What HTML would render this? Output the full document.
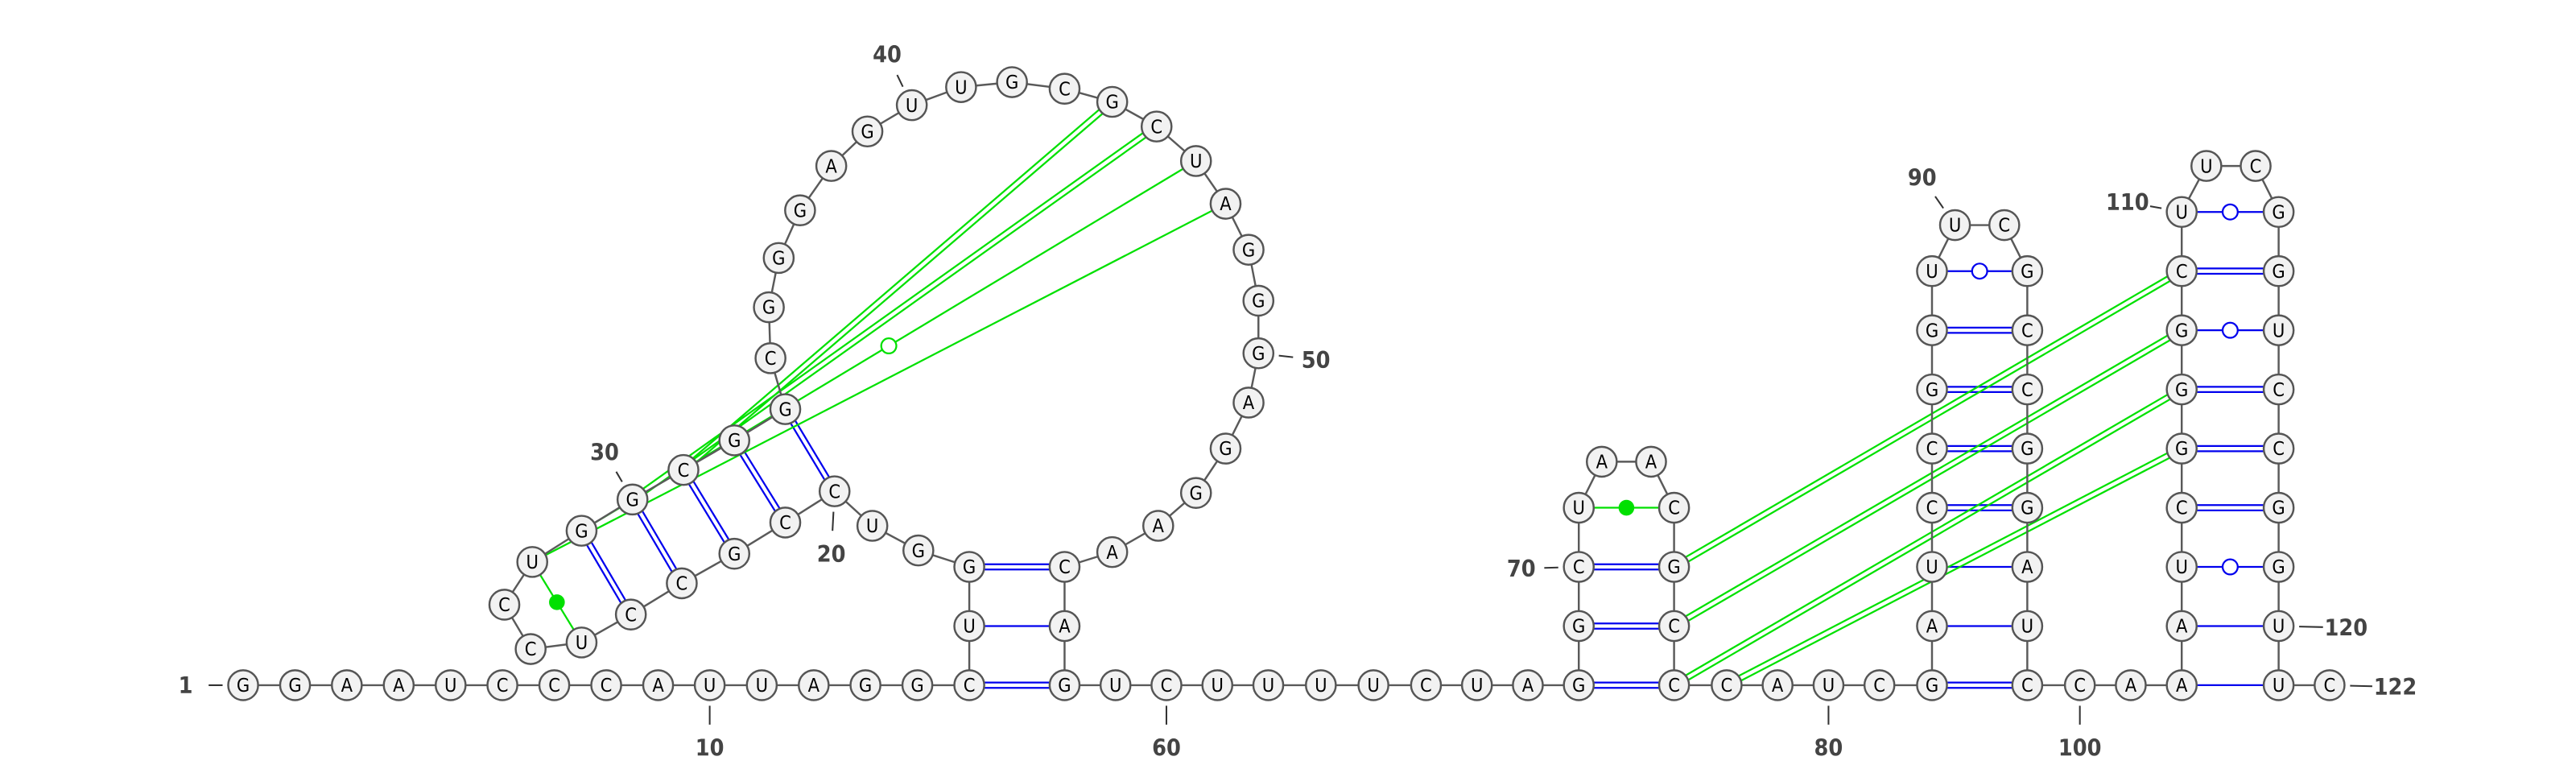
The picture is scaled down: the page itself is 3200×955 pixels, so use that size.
<!DOCTYPE html>
<html><head><meta charset="utf-8"><style>
html,body{margin:0;padding:0;background:#fff;}
svg{display:block;}
</style></head><body>
<svg id="rna" width="3200" height="955" viewBox="0 0 1568 468" preserveAspectRatio="none" xmlns="http://www.w3.org/2000/svg">
<g id="pairs"></g>
<g id="backbone"></g>
<g id="nodes"></g>
<g id="labels"></g>
</svg>
<script>
const seq = ["G","G","A","A","U","C","C","C","A","U","U","A","G","G","C",
"U","G","G","U","C","C","G","C","C","U","C","C","U","G","G","C","G","G",
"C","G","G","G","A","G","U","U","G","C","G","C","U","A","G","G","G","A","G","G","A","A","C",
"A","G","U","C","U","U","U","U","C","U","A",
"G","G","C","U","A","A","C","G","C","C","C","A","U","C",
"G","A","U","C","C","G","G","U","U","C","G","C","C","G","G","A","U","C",
"C","A","A","A","U","C","G","G","G","C","U","U","C","G","G","U","C","C","G","G","U","U","C"];
const xs = [148,179.6,211.1,242.7,274.3,305.8,337.4,369,400.6,432,463.7,495.3,526.8,558.4,590,590,590,559,531,508,478,447,415,384,354,323,307,324,354,385,416,447,478,469,468,474,487,506,528,555,585,616,648,677,704,728,746,760,766,766,760,746,728,705,677,648,648,648,679,710,741,772,804,836,868,899,930,961,961,961,961,975,1005,1019,1019,1019,1019,1051,1082,1113,1144,1176,1176,1176,1176,1176,1176,1176,1176,1190,1220,1234,1234,1234,1234,1234,1234,1234,1234,1266,1297,1328,1328,1328,1328,1328,1328,1328,1328,1328,1343,1373,1387,1387,1387,1387,1387,1387,1387,1387,1387,1418];
const ys = [417,417,417,417,417,417,417,417,417,417,417,417,417,417,417,381,345,335,320,299,318,337,355,374,391,395,368,342,323,304,286,268,249,218,187,157,128,101,80,64,53,50,54,62,77,98,124,152,183,215,245,273,300,320,336,345,381,417,417,417,417,417,417,417,417,417,417,417,381,345,309,281,281,309,345,381,417,417,417,417,417,417,381,345,309,273,237,201,165,137,137,165,201,237,273,309,345,381,417,417,417,417,381,345,309,273,237,201,165,129,101,101,129,165,201,237,273,309,345,381,417,417];
const pairI = [15,16,17,20,21,22,23,24,25,31,30,29,28,68,69,70,71,82,83,84,85,86,87,88,89,75,76,77,78,102,103,104,105,106,107,108,109,110];
const pairJ = [58,57,56,33,32,31,30,29,28,44,45,46,47,77,76,75,74,99,98,97,96,95,94,93,92,109,108,107,106,121,120,119,118,117,116,115,114,113];
const pairT = ["2","1","2","2","2","2","2","2","gd","g2","g2","gw","g1","2","2","2","gd","2","1","1","2","2","2","2","w","g2","g2","g2","g2","1","1","w","2","2","2","w","2","w"];
const labelPos = [1,10,20,30,40,50,60,70,80,90,100,110,120,122];
const labelDX = [-35,0,-2,-17,-15,35,0,-35,0,-20,0,-33,41,40];
const labelDY = [0,38,38,-29,-31,4,38,1,38,-29,38,-6,1,1];

const NS="http://www.w3.org/2000/svg";
function mk(tag, attrs, parent){const e=document.createElementNS(NS,tag);for(const k in attrs)e.setAttribute(k,attrs[k]);parent.appendChild(e);return e;}
const gP=document.getElementById('pairs'),gB=document.getElementById('backbone'),gN=document.getElementById('nodes'),gL=document.getElementById('labels');
const BLUE="#0000ee",GREEN="#00e000";
const N=Math.min(seq.length,xs.length,ys.length);
for(let k=0;k<pairI.length;k++){
  const a=pairI[k]-1,b=pairJ[k]-1,t=pairT[k];
  const x1=xs[a],y1=ys[a],x2=xs[b],y2=ys[b];
  const col=t[0]==='g'?GREEN:BLUE;
  const dx=x2-x1,dy=y2-y1,L=Math.hypot(dx,dy),nx=-dy/L,ny=dx/L;
  const grp=mk('g',{},gP);
  
  
  const sw=1.1;
  if(t==='2'||t==='g2'){
    for(const s of [-1.6,1.6]) mk('line',{x1:x1+nx*s,y1:y1+ny*s,x2:x2+nx*s,y2:y2+ny*s,stroke:col,'stroke-width':sw},grp);
  } else {
    mk('line',{x1:x1,y1:y1,x2:x2,y2:y2,stroke:col,'stroke-width':sw},grp);
  }
  const mx=(x1+x2)/2,my=(y1+y2)/2;
  if(t==='w'||t==='gw') mk('circle',{cx:mx,cy:my,r:4.6,fill:'#fff',stroke:col,'stroke-width':1.1},grp);
  if(t==='gd') mk('circle',{cx:mx,cy:my,r:4.8,fill:GREEN},grp);
}
for(let i=0;i<N-1;i++){
  const l=mk('line',{x1:xs[i],y1:ys[i],x2:xs[i+1],y2:ys[i+1],stroke:'#5a5a5a','stroke-width':1.2},gB);
  
  
}
for(let i=0;i<N;i++){
  const g=mk('g',{},gN);
  
  
  mk('circle',{cx:xs[i],cy:ys[i],r:9.1,fill:'#f2f2f2',stroke:'#555','stroke-width':1.2},g);
  const t=mk('text',{x:xs[i],y:ys[i]+4,'text-anchor':'middle','font-family':'"DejaVu Sans Condensed","DejaVu Sans",sans-serif','font-size':11.5,fill:'#000'},g);
  t.textContent=seq[i];
}
for(let k=0;k<labelPos.length;k++){
  const i=labelPos[k]-1,dx=labelDX[k],dy=labelDY[k];
  const g=mk('g',{},gL);
  
  
  const L=Math.hypot(dx,dy),ux=dx/L,uy=dy/L;
  mk('line',{x1:xs[i]+ux*12.5,y1:ys[i]+uy*12.5,x2:xs[i]+ux*(L-14),y2:ys[i]+uy*(L-14),stroke:'#333','stroke-width':1},g);
  const t=mk('text',{x:xs[i]+dx,y:ys[i]+dy+5,'text-anchor':'middle','font-family':'"DejaVu Sans Condensed","DejaVu Sans",sans-serif','font-size':14,'font-weight':'bold',fill:'#444'},g);
  t.textContent=String(labelPos[k]);
}
</script>
</body></html>
